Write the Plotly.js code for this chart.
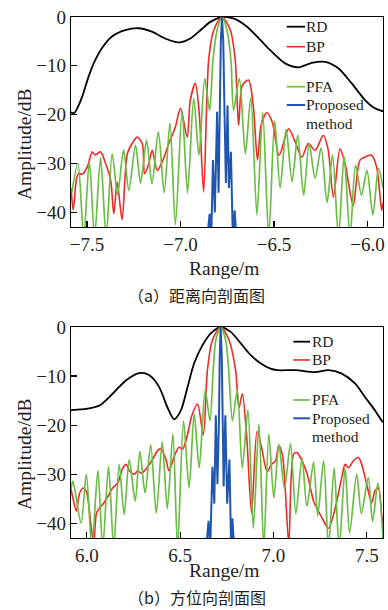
<!DOCTYPE html>
<html>
<head>
<meta charset="utf-8">
<script src="https://cdn.plot.ly/plotly-3.0.1.min.js"></script>
<style>html,body{margin:0;padding:0;background:#fff;}#chart{width:388px;height:610px;}</style>
</head>
<body>
<div id="chart"></div>
<script>
// ---------- (a) range profile ----------
const xRD_a = [-7.585,-7.571,-7.562,-7.526,-7.491,-7.455,-7.420,-7.366,-7.295,-7.224,-7.153,-7.082,-7.028,-7.000,-6.947,-6.893,-6.840,-6.778,-6.717,-6.644,-6.573,-6.520,-6.440,-6.369,-6.298,-6.227,-6.156,-6.084,-6.013,-5.960,-5.917];
const yRD_a = [-19.5,-19.7,-19.4,-16.4,-12.2,-8.8,-6.4,-4.0,-2.7,-2.3,-3.0,-4.4,-5.1,-5.2,-4.4,-2.7,-1.0,0,-0.3,-2.0,-4.7,-6.8,-9.5,-10.3,-9.4,-9.2,-10.5,-13.6,-17.0,-18.7,-19.3];

const xBP_a = [-7.585,-7.573,-7.555,-7.542,-7.524,-7.498,-7.471,-7.459,-7.444,-7.427,-7.400,-7.373,-7.356,-7.338,-7.312,-7.284,-7.258,-7.232,-7.204,-7.192,-7.169,-7.151,-7.124,-7.098,-7.062,-7.027,-7.000,-6.964,-6.947,-6.920,-6.899,-6.876,-6.849,-6.822,-6.778,-6.733,-6.707,-6.689,-6.669,-6.636,-6.611,-6.588,-6.568,-6.538,-6.509,-6.472,-6.422,-6.387,-6.351,-6.316,-6.280,-6.236,-6.211,-6.182,-6.147,-6.120,-6.076,-6.040,-6.004,-5.978,-5.951,-5.924,-5.917];
const yBP_a = [-35,-39.5,-33,-32,-32.2,-30.7,-27.6,-28.2,-28,-27.6,-30,-33.4,-40.3,-33.8,-41.5,-28,-25.9,-24.6,-25.9,-32.1,-30,-27.3,-31.4,-29.7,-25.9,-22.5,-18.7,-24.6,-17,-13.6,-20,-35.8,-8.8,-2.7,0,-2.7,-8.8,-22.2,-14,-12.9,-18,-29.3,-22,-19.6,-21.5,-28.3,-22.9,-25.5,-28.7,-25.9,-27.3,-24.2,-27,-36.9,-27,-30,-38.6,-29.3,-28.5,-28.3,-30.7,-39.6,-38];

const xPFA_a = [-7.581,-7.548,-7.517,-7.487,-7.459,-7.427,-7.397,-7.365,-7.336,-7.304,-7.276,-7.240,-7.213,-7.181,-7.152,-7.118,-7.087,-7.056,-7.027,-6.991,-6.962,-6.929,-6.901,-6.870,-6.844,-6.826,-6.804,-6.778,-6.751,-6.730,-6.716,-6.685,-6.653,-6.624,-6.591,-6.560,-6.528,-6.496,-6.467,-6.435,-6.403,-6.373,-6.341,-6.312,-6.280,-6.248,-6.216,-6.187,-6.155,-6.125,-6.093,-6.064,-6.032,-6.003,-5.971,-5.941,-5.917];
const yPFA_a = [-36,-30,-45,-29.6,-45,-28.8,-45,-28,-36.3,-27.2,-35.5,-26.3,-34,-25.2,-34.1,-23.5,-36,-21.7,-42.5,-19.1,-36,-16.7,-28.3,-12.6,-19.1,-8.8,-2.7,0,-2.7,-8.8,-19.1,-12.6,-28,-16.5,-40.5,-19.5,-45,-21.3,-35,-23,-33.7,-24.2,-36.5,-26,-33,-26.8,-38,-28.3,-45,-28.5,-45,-30.3,-36.5,-31.4,-40.5,-31,-35];

const xPro_a = [-6.856,-6.844,-6.835,-6.826,-6.816,-6.804,-6.796,-6.790,-6.784,-6.778,-6.771,-6.764,-6.757,-6.748,-6.741,-6.730,-6.720,-6.710,-6.701];
const yPro_a = [-45,-40.3,-45,-29.3,-40,-19.4,-36,-20,-5,0,-5,-20,-34,-18.1,-35,-27.6,-45,-39.6,-45];

// ---------- (b) azimuth profile ----------
const xRD_b = [5.915,5.924,5.996,6.067,6.138,6.209,6.280,6.333,6.387,6.431,6.468,6.504,6.540,6.575,6.620,6.664,6.717,6.771,6.824,6.877,6.931,6.984,7.020,7.117,7.224,7.295,7.366,7.437,7.491,7.544,7.580,7.587];
const yRD_b = [-17.0,-16.9,-16.7,-16.0,-13.6,-10.9,-9.4,-9.8,-12.2,-16.3,-18.8,-17.0,-12.2,-7.4,-3.7,-1.3,0,-1.0,-3.3,-5.7,-7.4,-8.5,-8.8,-8.8,-9.2,-8.8,-9.5,-11.5,-14.3,-17.0,-19.1,-19.4];

const xBP_b = [5.915,5.923,5.944,5.960,5.980,5.997,6.024,6.037,6.051,6.067,6.088,6.113,6.138,6.165,6.193,6.211,6.228,6.255,6.272,6.291,6.316,6.352,6.379,6.397,6.424,6.440,6.467,6.493,6.513,6.540,6.563,6.593,6.624,6.646,6.673,6.717,6.762,6.797,6.815,6.833,6.856,6.883,6.912,6.936,6.966,6.989,7.011,7.028,7.048,7.082,7.108,7.126,7.153,7.181,7.215,7.233,7.260,7.295,7.331,7.366,7.384,7.402,7.428,7.455,7.473,7.500,7.526,7.544,7.562,7.580,7.587];
const yBP_b = [-33,-34.5,-37.5,-34,-32.8,-33.5,-41,-44,-38,-36.9,-36,-34.5,-32.8,-31.8,-28.7,-28,-29.3,-30,-29.3,-29.8,-29,-27,-25.2,-24.8,-27,-29.3,-26.5,-24.5,-24.9,-21.8,-18,-15.7,-22,-8.8,-2.7,0,-2.7,-8.8,-16.5,-13.6,-22,-38,-21.3,-24.5,-29.5,-28,-27.3,-24.2,-26,-44,-25.9,-25.6,-27.3,-30,-35.5,-36.9,-38.9,-41,-36.9,-30.7,-28,-28.7,-27.3,-26.6,-28,-32.1,-35.8,-33.4,-32.8,-38.2,-40];

const xPFA_b = [5.915,5.925,5.969,5.997,6.027,6.059,6.085,6.116,6.144,6.173,6.200,6.227,6.259,6.284,6.312,6.342,6.372,6.404,6.431,6.461,6.486,6.518,6.548,6.575,6.602,6.634,6.660,6.677,6.691,6.717,6.744,6.760,6.780,6.806,6.833,6.863,6.892,6.922,6.948,6.975,7.002,7.029,7.059,7.091,7.120,7.153,7.179,7.215,7.237,7.269,7.295,7.325,7.352,7.384,7.408,7.446,7.471,7.508,7.531,7.560,7.587];
const yPFA_b = [-33,-31.4,-40,-30,-45,-29.2,-45,-28.4,-45,-28,-38.2,-27,-35.5,-25.4,-33.8,-24,-37.9,-23.4,-37,-21.8,-45,-19.1,-32.8,-17.7,-28.7,-12.9,-19.1,-8.8,-2.7,0,-2.7,-8.8,-19.1,-12.9,-28.7,-17,-41,-19.8,-45,-21.8,-34.8,-23.9,-33,-23.8,-38,-26.6,-36.5,-27.6,-38.5,-27.3,-45,-28.7,-45,-28.7,-42,-30,-38,-30.7,-39.6,-31.8,-43];

const xPro_b = [6.640,6.652,6.661,6.673,6.683,6.691,6.700,6.708,6.712,6.717,6.723,6.726,6.733,6.742,6.752,6.764,6.773,6.780,6.789];
const yPro_b = [-45,-39.5,-45,-28.5,-36,-18,-32,-19,-6,0,-6,-19,-32.5,-18,-36,-27,-45,-39,-45];

const yTicks = [0,-10,-20,-30,-40];
const xTicks_a = [-7.5,-7.0,-6.5,-6.0];
const xTicks_b = [6.0,6.5,7.0,7.5];

const names = ['RD','BP','PFA','Proposed','method'];
const colors = ['#000000','#ee2a24','#6cbd45','#2156b0'];
const widths = [1.8,1.6,1.7,2.0];

const serif = 'Liberation Serif';
const txt = '#231f20';

function mk(x,y,i,xa,ya,shape){
  return {x:x,y:y,xaxis:xa,yaxis:ya,mode:'lines',name:names[i],showlegend:false,
    line:{color:colors[i],width:widths[i],shape:shape,smoothing:0.8},hoverinfo:'skip'};
}
const data = [
  mk(xRD_a,yRD_a,0,'x','y','spline'),
  mk(xBP_a,yBP_a,1,'x','y','spline'),
  mk(xPFA_a,yPFA_a,2,'x','y','spline'),
  mk(xPro_a,yPro_a,3,'x','y','linear'),
  mk(xRD_b,yRD_b,0,'x2','y2','spline'),
  mk(xBP_b,yBP_b,1,'x2','y2','spline'),
  mk(xPFA_b,yPFA_b,2,'x2','y2','spline'),
  mk(xPro_b,yPro_b,3,'x2','y2','linear')
];

const axBase = {showline:true,mirror:true,linecolor:'#000',linewidth:1.2,ticks:'inside',ticklen:6,tickwidth:1.2,tickcolor:'#000',
  showgrid:false,zeroline:false,tickfont:{family:serif,size:19,color:txt}};

const annFont = {family:serif,size:19.5,color:txt};
const legFont = {family:serif,size:15.5,color:txt};

// hand-built legend keys (paper coordinates)
const legA = {x0:0.6913,x1:0.75,tx:0.7532,ys:[0.9814,0.9430,0.8662,0.8311],ym:0.7960};
const legB = {x0:0.7125,x1:0.7660,tx:0.7734,ys:[0.3768,0.3417,0.2649,0.2297],ym:0.1944};
const shapes = [], anns = [];
[legA,legB].forEach(L=>{
  L.ys.forEach((yy,i)=>{
    shapes.push({type:'line',xref:'paper',yref:'paper',x0:L.x0,x1:L.x1,y0:yy,y1:yy,line:{color:colors[i],width:widths[i]}});
    anns.push({text:names[i],xref:'paper',yref:'paper',x:L.tx,y:yy,xanchor:'left',yanchor:'middle',showarrow:false,font:Object.assign({},legFont),borderpad:0,borderwidth:0});
  });
  anns.push({text:names[4],xref:'paper',yref:'paper',x:L.tx,y:L.ym,xanchor:'left',yanchor:'middle',showarrow:false,font:Object.assign({},legFont),borderpad:0,borderwidth:0});
});

const cjk = {family:'Noto Sans CJK SC',size:16,color:txt};
anns.push(
  {text:'Amplitude/dB',xref:'paper',yref:'paper',x:-0.1506,y:0.7562,textangle:-90,showarrow:false,font:annFont,xanchor:'center',yanchor:'middle'},
  {text:'Amplitude/dB',xref:'paper',yref:'paper',x:-0.1506,y:0.1612,textangle:-90,showarrow:false,font:annFont,xanchor:'center',yanchor:'middle'},
  {text:'Range/m',xref:'paper',yref:'paper',x:0.490,y:0.5182,showarrow:false,font:annFont,xanchor:'center',yanchor:'middle'},
  {text:'Range/m',xref:'paper',yref:'paper',x:0.490,y:-0.0633,showarrow:false,font:annFont,xanchor:'center',yanchor:'middle'},
  {text:'（a）距离向剖面图',xref:'paper',yref:'paper',x:0.4038,y:0.4664,showarrow:false,font:cjk,xanchor:'center',yanchor:'middle'},
  {text:'（b）方位向剖面图',xref:'paper',yref:'paper',x:0.4038,y:-0.113,showarrow:false,font:cjk,xanchor:'center',yanchor:'middle'}
);

const layout = {
  width:388,height:610,margin:{l:71,r:5,t:17,b:72},
  font:{family:serif,color:txt},
  paper_bgcolor:'#fff',plot_bgcolor:'#fff',showlegend:false,
  xaxis:Object.assign({},axBase,{domain:[0,1],anchor:'y',range:[-7.585,-5.917],tickvals:xTicks_a,tickformat:'.1f'}),
  yaxis:Object.assign({},axBase,{domain:[0.5969,1],anchor:'x',range:[-43,0],tickvals:yTicks}),
  xaxis2:Object.assign({},axBase,{domain:[0,1],anchor:'y2',range:[5.915,7.587],tickvals:xTicks_b,tickformat:'.1f'}),
  yaxis2:Object.assign({},axBase,{domain:[0,0.405],anchor:'x2',range:[-43,0],tickvals:yTicks}),
  shapes:shapes,
  annotations:anns
};
Plotly.newPlot('chart',data,layout,{staticPlot:true,displayModeBar:false});
</script>
</body>
</html>
